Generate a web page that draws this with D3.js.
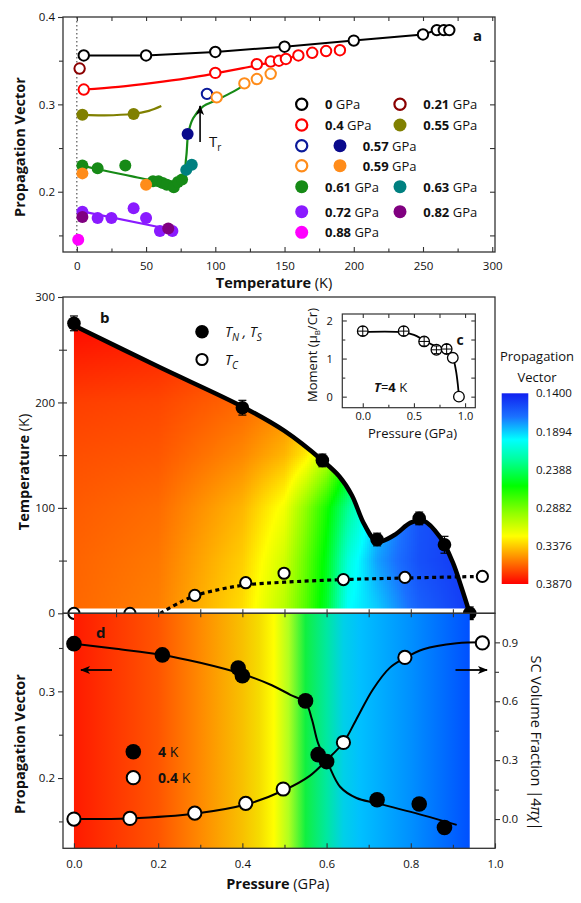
<!DOCTYPE html>
<html>
<head>
<meta charset="utf-8">
<script src="https://cdn.jsdelivr.net/npm/d3@7"></script>
<style>
body { margin: 0; background: #fff; }
svg text { font-family: "Open Sans", sans-serif; fill: #111; }
</style>
</head>
<body>
<script>
(function () {

"use strict";

// ---------- panel a : propagation vector vs temperature
var a0T = [5, 50, 100, 150, 200, 250, 260, 265, 269]
var a0Q = [0.356, 0.356, 0.360, 0.366, 0.373, 0.380, 0.385, 0.385, 0.385]
var a021T = [2], a021Q = [0.341]
var a04T = [5, 100, 130, 140, 146, 151, 160, 170, 180, 190]
var a04Q = [0.317, 0.336, 0.346, 0.349, 0.350, 0.352, 0.356, 0.359, 0.361, 0.362]
var a055T = [4, 41], a055Q = [0.288, 0.289]
var a057oT = [94], a057oQ = [0.312]
var a057fT = [80], a057fQ = [0.266]
var a059oT = [101, 121, 130, 140], a059oQ = [0.308, 0.324, 0.329, 0.335]
var a059fT = [4, 50], a059fQ = [0.221, 0.208]
var a061T = [4, 15, 35, 55, 59, 62, 65, 70, 73, 76]
var a061Q = [0.230, 0.227, 0.230, 0.212, 0.212, 0.210, 0.208, 0.205, 0.211, 0.214]
var a063T = [79, 83], a063Q = [0.225, 0.231]
var a072T = [4, 15, 25, 41, 50, 60, 69], a072Q = [0.177, 0.170, 0.170, 0.181, 0.170, 0.155, 0.155]
var a082T = [4, 66], a082Q = [0.171, 0.158]
var a088T = [1], a088Q = [0.145]

// guide curves drawn in panel a
var fit04T = [5, 30, 55, 80, 100, 120, 140, 160]
var fit04Q = [0.317, 0.320, 0.3245, 0.330, 0.3355, 0.3415, 0.348, 0.356]
var fit055T = [5, 20, 40, 52, 61]
var fit055Q = [0.288, 0.2875, 0.289, 0.2925, 0.298]
var fit061T = [4, 17, 40, 53, 70, 76, 79, 80.5, 84, 91, 101, 113, 121]
var fit061Q = [0.2297, 0.2251, 0.2175, 0.2137, 0.212, 0.2137, 0.240, 0.267, 0.2842, 0.2975, 0.305, 0.3146, 0.3223]
var fit072T = [2, 67]
var fit072Q = [0.178, 0.157]

// ---------- panel b : phase diagram
var tnP = [0, 0.40, 0.59, 0.72, 0.82, 0.88, 0.94]
var tnT = [275, 195, 145, 70, 90, 65, 0]
var tnErr = [7, 7, 6, 6, 6, 8, 6]
var tcP = [0, 0.133, 0.287, 0.408, 0.499, 0.64, 0.786, 0.97]
var tcT = [0, 0, 17, 29, 38, 32, 34, 35]
var tnFitP = [0, 0.2, 0.4, 0.5, 0.59, 0.63, 0.66, 0.69, 0.72, 0.76, 0.8, 0.83, 0.87, 0.9, 0.92, 0.94]
var tnFitT = [273, 234, 196, 173, 145, 130, 112, 84, 68, 74, 86, 88, 72, 48, 25, 0]
var tcFitP = [0.205, 0.25, 0.29, 0.35, 0.41, 0.5, 0.64, 0.79, 0.97]
var tcFitT = [0, 10, 17, 23, 27, 29.5, 32, 33.5, 35]

// propagation vector map q(P, T)
var gridP = [0, 0.2, 0.4, 0.5, 0.55, 0.6, 0.65, 0.72, 0.82, 0.94]
var gridT = [0, 50, 100, 150, 200, 275]
var qRow0 = [0.362, 0.356, 0.333, 0.305, 0.280, 0.250, 0.200, 0.190, 0.165, 0.150]
var qRow50 = [0.363, 0.358, 0.337, 0.312, 0.285, 0.255, 0.210, 0.180, 0.158, 0.148]
var qRow100 = [0.365, 0.361, 0.343, 0.322, 0.295, 0.265, 0.228, 0.190, 0.160, 0.150]
var qRow150 = [0.368, 0.366, 0.354, 0.343, 0.330, 0.308, 0.268, 0.220, 0.190, 0.170]
var qRow200 = [0.372, 0.370, 0.362, 0.355, 0.348, 0.335, 0.310, 0.280, 0.250, 0.220]
var qRow275 = [0.385, 0.382, 0.375, 0.370, 0.365, 0.355, 0.330, 0.300, 0.270, 0.250]
var gridQ = [qRow0, qRow50, qRow100, qRow150, qRow200, qRow275]

// colour bar
var cbTicks = [0.1400, 0.1894, 0.2388, 0.2882, 0.3376, 0.3870]
var colorQ = [0.140, 0.170, 0.200, 0.225, 0.260, 0.295, 0.325, 0.350, 0.387]
var colorHex = ["#1020f0", "#1a70ff", "#00ffff", "#00ffa0", "#00ff00", "#90ff00", "#ffff00", "#ff9900", "#ff0000"]

// ---------- panel c : ordered moment at 4 K
var cP = [0, 0.4, 0.6, 0.72, 0.82, 0.88, 0.94]
var cM = [1.72, 1.72, 1.45, 1.23, 1.25, 1.02, 0]
var cErr = [0.12, 0.12, 0.12, 0.1, 0.12, 0, 0]
var cFitP = [0, 0.4, 0.5, 0.6, 0.72, 0.82, 0.88, 0.91, 0.93, 0.94]
var cFitM = [1.70, 1.69, 1.62, 1.48, 1.31, 1.22, 1.02, 0.7, 0.3, 0]

// ---------- panel d : q at 4 K and SC fraction at 0.4 K
var d4P = [0, 0.21, 0.39, 0.40, 0.55, 0.58, 0.60, 0.72, 0.82, 0.88]
var d4Q = [0.355, 0.342, 0.327, 0.318, 0.289, 0.227, 0.219, 0.175, 0.170, 0.143]
var d04P = [0, 0.133, 0.287, 0.408, 0.497, 0.64, 0.786, 0.97]
var d04V = [0.0, 0.003, 0.03, 0.08, 0.153, 0.39, 0.823, 0.897]
var d4FitP = [0, 0.1, 0.21, 0.3, 0.4, 0.47, 0.514, 0.55, 0.565, 0.58, 0.603, 0.632, 0.671, 0.72, 0.83, 0.909]
var d4FitQ = [0.355, 0.349, 0.342, 0.333, 0.320, 0.307, 0.296, 0.287, 0.268, 0.240, 0.217, 0.190, 0.177, 0.171, 0.157, 0.146]
var d04FitP = [0, 0.13, 0.29, 0.41, 0.5, 0.56, 0.6, 0.64, 0.67, 0.71, 0.75, 0.786, 0.83, 0.909, 0.97]
var d04FitV = [0, 0.003, 0.028, 0.075, 0.148, 0.22, 0.3, 0.39, 0.505, 0.66, 0.77, 0.82, 0.865, 0.895, 0.9]
var dGradP = [0, 0.1, 0.2, 0.3, 0.4, 0.44, 0.475, 0.51, 0.55, 0.6, 0.64, 0.68, 0.8, 0.94]
var dGradHex = ["#ff1a00", "#ff3800", "#ff5500", "#ff8a00", "#f8c000", "#f5dc00", "#ffff00", "#b0ff20", "#10f040", "#00e8a0", "#00d0e8", "#00c0ff", "#0090ff", "#0050ff"]

var series = [
  { key: "0",     color: "#000000", open: true,  T: a0T,    q: a0Q },
  { key: "0.21",  color: "#8b0000", open: true,  T: a021T,  q: a021Q },
  { key: "0.4",   color: "#ff0000", open: true,  T: a04T,   q: a04Q },
  { key: "0.55",  color: "#808000", open: false, T: a055T,  q: a055Q },
  { key: "0.61",  color: "#168a16", open: false, T: a061T,  q: a061Q },
  { key: "0.63",  color: "#008080", open: false, T: a063T,  q: a063Q },
  { key: "0.57o", color: "#0a1a9a", open: true,  T: a057oT, q: a057oQ },
  { key: "0.57f", color: "#0a0a8c", open: false, T: a057fT, q: a057fQ },
  { key: "0.59o", color: "#ff8c1a", open: true,  T: a059oT, q: a059oQ },
  { key: "0.59f", color: "#ff8c1a", open: false, T: a059fT, q: a059fQ },
  { key: "0.72",  color: "#8a1aff", open: false, T: a072T,  q: a072Q },
  { key: "0.82",  color: "#800080", open: false, T: a082T,  q: a082Q },
  { key: "0.88",  color: "#ff00ff", open: false, T: a088T,  q: a088Q }
]
var fits = [
  { color: "#ff0000", T: fit04T, q: fit04Q },
  { color: "#808000", T: fit055T, q: fit055Q },
  { color: "#168a16", T: fit061T, q: fit061Q },
  { color: "#8a1aff", T: fit072T, q: fit072Q }
]
var legendEntries = [
  { label: "0",    keys: ["0"],              col: 0, row: 0 },
  { label: "0.21", keys: ["0.21"],           col: 1, row: 0 },
  { label: "0.4",  keys: ["0.4"],            col: 0, row: 1 },
  { label: "0.55", keys: ["0.55"],           col: 1, row: 1 },
  { label: "0.57", keys: ["0.57o", "0.57f"], col: 0, row: 2 },
  { label: "0.59", keys: ["0.59o", "0.59f"], col: 0, row: 3 },
  { label: "0.61", keys: ["0.61"],           col: 0, row: 4 },
  { label: "0.63", keys: ["0.63"],           col: 1, row: 4 },
  { label: "0.72", keys: ["0.72"],           col: 0, row: 5 },
  { label: "0.82", keys: ["0.82"],           col: 1, row: 5 },
  { label: "0.88", keys: ["0.88"],           col: 0, row: 6 }
]

var svg = d3.select("body").append("svg").attr("width", 581).attr("height", 903)
  , defs = svg.append("defs")
  , frame = "#333"
  , smooth = d3.curveCatmullRom.alpha(0.5)

defs.append("marker").attr("id", "head")
  .attr("viewBox", "0 0 10 8").attr("refX", 9).attr("refY", 4)
  .attr("markerUnits", "userSpaceOnUse").attr("markerWidth", 10).attr("markerHeight", 8)
  .attr("orient", "auto")
  .append("path").attr("d", "M0,0 L10,4 L0,8 L2.5,4 z").attr("fill", "#000")

function styleAxis(g, size) {
  g.select(".domain").remove()
  g.attr("font-family", null).attr("font-size", null)
  g.selectAll("line").attr("stroke", frame).attr("stroke-width", 1.1)
  g.selectAll("text").style("font-size", (size || 11.5) + "px").attr("fill", "#111")
}
function addAxis(g, gen, size) { g.call(gen); styleAxis(g, size); return g }

function circles(g, xs, ys, xScale, yScale, r, open, color, sw) {
  g.selectAll(null).data(d3.zip(xs, ys)).join("circle")
    .attr("cx", function (d) { return xScale(d[0]) })
    .attr("cy", function (d) { return yScale(d[1]) })
    .attr("r", r)
    .attr("fill", open ? "#fff" : color)
    .attr("stroke", open ? color : "none")
    .attr("stroke-width", sw || 2)
}

// =============== panel a
var xA = d3.scaleLinear().domain([-10, 302]).range([63, 495])
  , yA = d3.scaleLinear().domain([0.131, 0.4]).range([252, 17])
  , gA = svg.append("g")

gA.append("line").attr("x1", xA(0)).attr("x2", xA(0)).attr("y1", yA(0.4)).attr("y2", yA(0.131))
  .attr("stroke", "#333").attr("stroke-dasharray", "1.5,2.5")

addAxis(gA.append("g").attr("transform", "translate(63,0)"),
  d3.axisLeft(yA).tickValues([0.2, 0.3, 0.4]).tickSize(5).tickPadding(3).tickFormat(d3.format(".1f")))
addAxis(gA.append("g").attr("transform", "translate(63,0)"),
  d3.axisLeft(yA).tickValues([0.15, 0.25, 0.35]).tickSize(4).tickFormat(""))
addAxis(gA.append("g").attr("transform", "translate(495,0)"),
  d3.axisRight(yA).tickValues([0.15, 0.2, 0.25, 0.3, 0.35]).tickSize(-5).tickFormat(""))
addAxis(gA.append("g").attr("transform", "translate(0,252)"),
  d3.axisBottom(xA).tickValues(d3.range(0, 301, 50)).tickSize(-5).tickPadding(9.5))
addAxis(gA.append("g").attr("transform", "translate(0,252)"),
  d3.axisBottom(xA).tickValues(d3.range(25, 300, 50)).tickSize(-3.5).tickFormat(""))
addAxis(gA.append("g").attr("transform", "translate(0,17)"),
  d3.axisTop(xA).tickValues(d3.range(0, 301, 25)).tickSize(-4).tickFormat(""))

var lineA = d3.line().x(function (d) { return xA(d[0]) }).y(function (d) { return yA(d[1]) })
gA.append("path").attr("d", lineA(d3.zip(a0T, a0Q))).attr("fill", "none").attr("stroke", "#000").attr("stroke-width", 2)
fits.forEach(function (f) {
  gA.append("path").attr("d", lineA.curve(smooth)(d3.zip(f.T, f.q)))
    .attr("fill", "none").attr("stroke", f.color).attr("stroke-width", 2.2)
})
series.forEach(function (s) {
  circles(gA.append("g"), s.T, s.q, xA, yA, s.open ? 5.2 : 6, s.open, s.color, 2)
})

gA.append("line").attr("x1", xA(89)).attr("x2", xA(89)).attr("y1", yA(0.257)).attr("y2", yA(0.298))
  .attr("stroke", "#000").attr("stroke-width", 1.6).attr("marker-end", "url(#head)")
var tr = gA.append("text").attr("x", 209).attr("y", 147).style("font-size", "15px")
tr.append("tspan").text("T")
tr.append("tspan").attr("dy", 4).style("font-size", "10px").text("r")

var rowY = [104.3, 125, 145.7, 165.7, 186.7, 211.7, 232.3]
  , colCircle = [301.7, 400]
  , colText = [325, 423.3]
legendEntries.forEach(function (e) {
  var y = rowY[e.row]
  e.keys.forEach(function (k, i) {
    var s = series.find(function (d) { return d.key === k })
    gA.append("circle").attr("cx", colCircle[e.col] + i * 38.3).attr("cy", y)
      .attr("r", s.open ? 5.6 : 6.5)
      .attr("fill", s.open ? "#fff" : s.color).attr("stroke", s.open ? s.color : "none").attr("stroke-width", 2.2)
  })
  var t = gA.append("text").attr("x", e.keys.length > 1 ? 362.7 : colText[e.col]).attr("y", y + 4.8).style("font-size", "13px")
  t.append("tspan").attr("font-weight", "bold").text(e.label)
  t.append("tspan").text(" GPa")
})
gA.append("text").attr("x", 473).attr("y", 40.5).attr("font-weight", "bold").style("font-size", "15px").text("a")
gA.append("rect").attr("x", 63).attr("y", 17).attr("width", 432).attr("height", 235)
  .attr("fill", "none").attr("stroke", frame).attr("stroke-width", 1.3)
gA.append("text").attr("transform", "translate(25,147) rotate(-90)").attr("text-anchor", "middle")
  .attr("font-weight", "bold").style("font-size", "14.5px").text("Propagation Vector")
var ta = gA.append("text").attr("x", 274).attr("y", 288).attr("text-anchor", "middle").style("font-size", "14.5px")
ta.append("tspan").attr("font-weight", "bold").text("Temperature")
ta.append("tspan").text(" (K)")

// =============== panel b
var xP = d3.scaleLinear().domain([-0.026, 1.0]).range([63, 495])
  , yB = d3.scaleLinear().domain([0, 300]).range([613.3, 297])
  , gB = svg.append("g")
  , colorScale = d3.scaleLinear().domain(colorQ).range(colorHex).clamp(true)

function qAt(p, t) {
  var i = Math.max(0, Math.min(gridP.length - 2, d3.bisectRight(gridP, p) - 1))
    , j = Math.max(0, Math.min(gridT.length - 2, d3.bisectRight(gridT, t) - 1))
    , fp = Math.max(0, Math.min(1, (p - gridP[i]) / (gridP[i + 1] - gridP[i])))
    , ft = Math.max(0, Math.min(1, (t - gridT[j]) / (gridT[j + 1] - gridT[j])))
    , lo = gridQ[j][i] * (1 - fp) + gridQ[j][i + 1] * fp
    , hi = gridQ[j + 1][i] * (1 - fp) + gridQ[j + 1][i + 1] * fp
  return lo * (1 - ft) + hi * ft
}

var tnFit = d3.zip(tnFitP, tnFitT)
defs.append("clipPath").attr("id", "tnClip").append("path")
  .attr("d", d3.area().x(function (d) { return xP(d[0]) }).y0(yB(4.5)).y1(function (d) { return yB(d[1]) }).curve(smooth)(tnFit))

var cells = []
for (var px = Math.floor(xP(0)); px < xP(0.94) + 1; px += 2) {
  for (var py = Math.floor(yB(280)); py < yB(4.5) + 1; py += 2) {
    cells.push([px, py, qAt(xP.invert(px + 1), yB.invert(py + 1))])
  }
}
gB.append("g").attr("clip-path", "url(#tnClip)").selectAll("rect").data(cells).join("rect")
  .attr("x", function (d) { return d[0] }).attr("y", function (d) { return d[1] })
  .attr("width", 2.3).attr("height", 2.3).attr("shape-rendering", "crispEdges")
  .attr("fill", function (d) { return colorScale(d[2]) })

addAxis(gB.append("g").attr("transform", "translate(63,0)"),
  d3.axisLeft(yB).tickValues([0, 100, 200, 300]).tickSize(5).tickPadding(3))
addAxis(gB.append("g").attr("transform", "translate(63,0)"),
  d3.axisLeft(yB).tickValues([50, 150, 250]).tickSize(4).tickFormat(""))
addAxis(gB.append("g").attr("transform", "translate(63,0)"),
  d3.axisRight(yB).tickValues(d3.range(50, 300, 50)).tickSize(4).tickFormat(""))

// T_N line, error bars and points
gB.append("path").attr("d", d3.line().x(function (d) { return xP(d[0]) }).y(function (d) { return yB(d[1]) }).curve(smooth)(tnFit))
  .attr("fill", "none").attr("stroke", "#000").attr("stroke-width", 4.5)
gB.append("path").attr("d", d3.line().x(function (d) { return xP(d[0]) }).y(function (d) { return yB(d[1]) }).curve(smooth)(d3.zip(tcFitP, tcFitT)))
  .attr("fill", "none").attr("stroke", "#000").attr("stroke-width", 3.2).attr("stroke-dasharray", "4,3.5")
var errB = gB.append("g").attr("stroke", "#000").attr("stroke-width", 1.2)
tnP.forEach(function (p, i) {
  var x = xP(p), y0 = yB(tnT[i] - tnErr[i]), y1 = yB(tnT[i] + tnErr[i])
  errB.append("line").attr("x1", x).attr("x2", x).attr("y1", y0).attr("y2", y1)
  errB.append("line").attr("x1", x - 4).attr("x2", x + 4).attr("y1", y0).attr("y2", y0)
  errB.append("line").attr("x1", x - 4).attr("x2", x + 4).attr("y1", y1).attr("y2", y1)
})
circles(gB.append("g"), tnP, tnT, xP, yB, 6.8, false, "#000")
circles(gB.append("g"), tcP, tcT, xP, yB, 5.6, true, "#000", 2)

gB.append("circle").attr("cx", 202).attr("cy", 331.7).attr("r", 6.8).attr("fill", "#000")
gB.append("circle").attr("cx", 202).attr("cy", 359.5).attr("r", 5.6).attr("fill", "#fff").attr("stroke", "#000").attr("stroke-width", 2)
var lt = gB.append("text").attr("x", 225).attr("y", 337).style("font-size", "14px").attr("font-style", "italic")
lt.append("tspan").text("T")
lt.append("tspan").attr("dy", 4).style("font-size", "10px").text("N")
lt.append("tspan").attr("dy", -4).text(" , T")
lt.append("tspan").attr("dy", 4).style("font-size", "10px").text("S")
var lc = gB.append("text").attr("x", 225).attr("y", 365).style("font-size", "14px").attr("font-style", "italic")
lc.append("tspan").text("T")
lc.append("tspan").attr("dy", 4).style("font-size", "10px").text("C")
gB.append("text").attr("x", 100).attr("y", 323.3).attr("font-weight", "bold").style("font-size", "15px").text("b")

gB.append("rect").attr("x", 63).attr("y", 297).attr("width", 432).attr("height", 316.3)
  .attr("fill", "none").attr("stroke", frame).attr("stroke-width", 1.3)
var tb = gB.append("text").attr("transform", "translate(29,472) rotate(-90)").attr("text-anchor", "middle").style("font-size", "14.5px")
tb.append("tspan").attr("font-weight", "bold").text("Temperature")
tb.append("tspan").text(" (K)")

// colour bar
var yCb = d3.scaleLinear().domain([0.14, 0.387]).range([393.3, 584])
var cbGrad = defs.append("linearGradient").attr("id", "cbGrad").attr("x1", 0).attr("x2", 0).attr("y1", 0).attr("y2", 1)
colorQ.forEach(function (q, i) {
  cbGrad.append("stop").attr("offset", (q - 0.14) / 0.247).attr("stop-color", colorHex[i])
})
svg.append("rect").attr("x", 501.7).attr("y", yCb(0.14)).attr("width", 26.6).attr("height", yCb(0.387) - yCb(0.14))
  .attr("fill", "url(#cbGrad)")
addAxis(svg.append("g").attr("transform", "translate(528.3,0)"),
  d3.axisRight(yCb).tickValues(cbTicks).tickSize(0).tickPadding(7.7).tickFormat(d3.format(".4f")))
svg.append("text").attr("x", 537).attr("y", 361).attr("text-anchor", "middle").style("font-size", "13px").text("Propagation")
svg.append("text").attr("x", 537).attr("y", 381.5).attr("text-anchor", "middle").style("font-size", "13px").text("Vector")

// =============== panel c (inset)
var xC = d3.scaleLinear().domain([-0.2, 1.1]).range([342.3, 475.3])
  , yC = d3.scaleLinear().domain([-0.29, 2.17]).range([407.7, 314])
  , gC = svg.append("g")
gC.append("rect").attr("x", 342.3).attr("y", 314).attr("width", 133).attr("height", 93.7).attr("fill", "#fff")
addAxis(gC.append("g").attr("transform", "translate(342.3,0)"),
  d3.axisLeft(yC).tickValues([0, 1, 2]).tickSize(-4.5).tickPadding(9.5).tickFormat(d3.format("d")), 11)
addAxis(gC.append("g").attr("transform", "translate(342.3,0)"),
  d3.axisLeft(yC).tickValues([0.5, 1.5]).tickSize(-3).tickFormat(""))
addAxis(gC.append("g").attr("transform", "translate(475.3,0)"),
  d3.axisRight(yC).tickValues([0, 0.5, 1, 1.5, 2]).tickSize(-4).tickFormat(""))
addAxis(gC.append("g").attr("transform", "translate(0,407.7)"),
  d3.axisBottom(xC).tickValues([0, 0.5, 1]).tickSize(-4.5).tickPadding(5).tickFormat(d3.format(".1f")), 11)
addAxis(gC.append("g").attr("transform", "translate(0,407.7)"),
  d3.axisBottom(xC).tickValues([0.25, 0.75]).tickSize(-3).tickFormat(""))
addAxis(gC.append("g").attr("transform", "translate(0,314)"),
  d3.axisTop(xC).tickValues([0, 0.25, 0.5, 0.75, 1]).tickSize(-4).tickFormat(""))
gC.append("path").attr("d", d3.line().x(function (d) { return xC(d[0]) }).y(function (d) { return yC(d[1]) }).curve(smooth)(d3.zip(cFitP, cFitM)))
  .attr("fill", "none").attr("stroke", "#000").attr("stroke-width", 1.8)
circles(gC.append("g"), cP, cM, xC, yC, 5.3, true, "#000", 1.3)
var errC = gC.append("g").attr("stroke", "#000").attr("stroke-width", 1)
cP.forEach(function (p, i) {
  if (!cErr[i]) return
  var x = xC(p), y = yC(cM[i]), y0 = yC(cM[i] - cErr[i]), y1 = yC(cM[i] + cErr[i])
  errC.append("line").attr("x1", x).attr("x2", x).attr("y1", y0).attr("y2", y1)
  errC.append("line").attr("x1", x - 5.3).attr("x2", x + 5.3).attr("y1", y).attr("y2", y)
  errC.append("line").attr("x1", x - 2.5).attr("x2", x + 2.5).attr("y1", y0).attr("y2", y0)
  errC.append("line").attr("x1", x - 2.5).attr("x2", x + 2.5).attr("y1", y1).attr("y2", y1)
})
gC.append("rect").attr("x", 342.3).attr("y", 314).attr("width", 133).attr("height", 93.7)
  .attr("fill", "none").attr("stroke", frame).attr("stroke-width", 1.2)
gC.append("text").attr("x", 456.5).attr("y", 344.5).attr("font-weight", "bold").style("font-size", "14px").text("c")
var t4 = gC.append("text").attr("x", 374).attr("y", 391.5).style("font-size", "13px")
t4.append("tspan").attr("font-weight", "bold").attr("font-style", "italic").text("T")
t4.append("tspan").text("=")
t4.append("tspan").attr("font-weight", "bold").text("4")
t4.append("tspan").text(" K")
gC.append("text").attr("x", 412.5).attr("y", 438).attr("text-anchor", "middle").style("font-size", "13px").text("Pressure (GPa)")
var tm = gC.append("text").attr("transform", "translate(317,355) rotate(-90)").attr("text-anchor", "middle").style("font-size", "13px")
tm.append("tspan").text("Moment (\u03bc")
tm.append("tspan").attr("dy", 3).style("font-size", "8px").text("B")
tm.append("tspan").attr("dy", -3).text("/Cr)")

// =============== panel d
var yD = d3.scaleLinear().domain([0.119, 0.390]).range([848.3, 613.3])
  , yR = d3.scaleLinear().domain([-0.149, 1.048]).range([848.3, 613.3])
  , gD = svg.append("g")
var dGrad = defs.append("linearGradient").attr("id", "dGrad").attr("gradientUnits", "userSpaceOnUse")
  .attr("x1", xP(0)).attr("x2", xP(0.94)).attr("y1", 0).attr("y2", 0)
dGradP.forEach(function (p, i) {
  dGrad.append("stop").attr("offset", p / 0.94).attr("stop-color", dGradHex[i])
})
gD.append("rect").attr("x", xP(0)).attr("y", 613.3).attr("width", xP(0.94) - xP(0)).attr("height", 235)
  .attr("fill", "url(#dGrad)")

addAxis(gD.append("g").attr("transform", "translate(63,0)"),
  d3.axisLeft(yD).tickValues([0.2, 0.3]).tickSize(5).tickPadding(3).tickFormat(d3.format(".1f")))
addAxis(gD.append("g").attr("transform", "translate(63,0)"),
  d3.axisLeft(yD).tickValues([0.15, 0.25, 0.35]).tickSize(4).tickFormat(""))
addAxis(gD.append("g").attr("transform", "translate(495,0)"),
  d3.axisRight(yR).tickValues([0, 0.3, 0.6, 0.9]).tickSize(5).tickPadding(2).tickFormat(d3.format(".1f")))
addAxis(gD.append("g").attr("transform", "translate(495,0)"),
  d3.axisRight(yR).tickValues([0.15, 0.45, 0.75]).tickSize(4).tickFormat(""))
addAxis(gD.append("g").attr("transform", "translate(0,848.3)"),
  d3.axisBottom(xP).tickValues([0, 0.2, 0.4, 0.6, 0.8, 1.0]).tickSize(-5).tickPadding(11.5).tickFormat(d3.format(".1f")))
addAxis(gD.append("g").attr("transform", "translate(0,848.3)"),
  d3.axisBottom(xP).tickValues([0.1, 0.3, 0.5, 0.7, 0.9]).tickSize(-3.5).tickFormat(""))
// shared border between b and d
addAxis(gD.append("g").attr("transform", "translate(0,617.3)"),
  d3.axisTop(xP).tickValues(d3.range(1, 10).map(function (i) { return i / 10 })).tickSize(8).tickFormat(""))

var lineD = d3.line().x(function (d) { return xP(d[0]) }).curve(smooth)
gD.append("path").attr("d", lineD.y(function (d) { return yD(d[1]) })(d3.zip(d4FitP, d4FitQ)))
  .attr("fill", "none").attr("stroke", "#000").attr("stroke-width", 2)
gD.append("path").attr("d", lineD.y(function (d) { return yR(d[1]) })(d3.zip(d04FitP, d04FitV)))
  .attr("fill", "none").attr("stroke", "#000").attr("stroke-width", 2)
circles(gD.append("g"), d4P, d4Q, xP, yD, 7.8, false, "#000")
circles(gD.append("g"), d04P, d04V, xP, yR, 6.6, true, "#000", 2)

gD.append("line").attr("x1", 112).attr("x2", 81).attr("y1", 670).attr("y2", 670)
  .attr("stroke", "#000").attr("stroke-width", 1.8).attr("marker-end", "url(#head)")
gD.append("line").attr("x1", 455.5).attr("x2", 487).attr("y1", 670).attr("y2", 670)
  .attr("stroke", "#000").attr("stroke-width", 1.8).attr("marker-end", "url(#head)")

gD.append("circle").attr("cx", 133.3).attr("cy", 751.7).attr("r", 7.8).attr("fill", "#000")
gD.append("circle").attr("cx", 133.3).attr("cy", 777.7).attr("r", 6.6).attr("fill", "#fff").attr("stroke", "#000").attr("stroke-width", 2)
var l4 = gD.append("text").attr("x", 158).attr("y", 756.8).style("font-size", "14px")
l4.append("tspan").attr("font-weight", "bold").text("4")
l4.append("tspan").text(" K")
var l04 = gD.append("text").attr("x", 158).attr("y", 782.8).style("font-size", "14px")
l04.append("tspan").attr("font-weight", "bold").text("0.4")
l04.append("tspan").text(" K")
gD.append("text").attr("x", 96).attr("y", 638).attr("font-weight", "bold").style("font-size", "15px").text("d")

gD.append("rect").attr("x", 63).attr("y", 613.3).attr("width", 432).attr("height", 235)
  .attr("fill", "none").attr("stroke", frame).attr("stroke-width", 1.3)
gD.append("text").attr("transform", "translate(25,744) rotate(-90)").attr("text-anchor", "middle")
  .attr("font-weight", "bold").style("font-size", "14.5px").text("Propagation Vector")
var tR = gD.append("text").attr("transform", "translate(531,743) rotate(90)").attr("text-anchor", "middle").style("font-size", "14.5px")
tR.append("tspan").text("SC Volume Fraction |4")
tR.append("tspan").attr("font-style", "italic").text("\u03c0\u03c7")
tR.append("tspan").text("|")
var tp = gD.append("text").attr("x", 277.7).attr("y", 889).attr("text-anchor", "middle").style("font-size", "14.5px")
tp.append("tspan").attr("font-weight", "bold").text("Pressure")
tp.append("tspan").text(" (GPa)")

}())
</script>
</body>
</html>
